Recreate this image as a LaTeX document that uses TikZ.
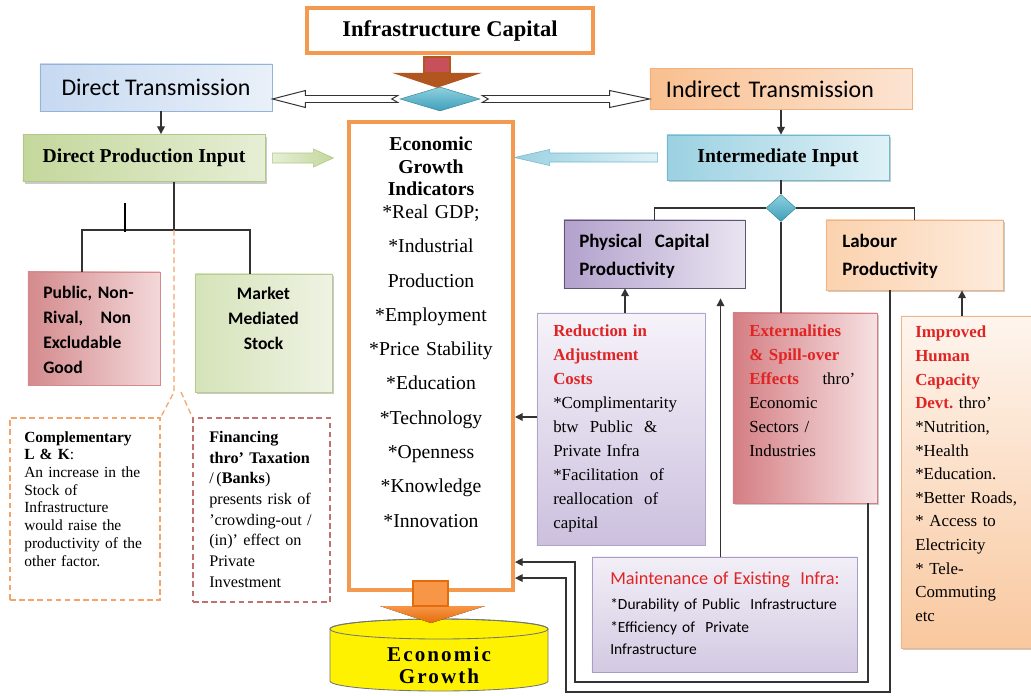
\documentclass[tikz,border=0pt]{standalone}
\usepackage{fontspec}
\setmainfont{Liberation Serif}
\newfontfamily\calibri{Carlito}
\usetikzlibrary{shapes.geometric,arrows.meta,calc,positioning,shadows}

\definecolor{infra-orange}{HTML}{F39A50}
\definecolor{direct-blue-1}{HTML}{C6D9F1}
\definecolor{direct-blue-2}{HTML}{E9F0F9}
\definecolor{direct-blue-3}{HTML}{95B3D7}
\definecolor{prod-green-1}{HTML}{C4D79B}
\definecolor{prod-green-2}{HTML}{E6EED5}
\definecolor{prod-green-3}{HTML}{B0C88A}
\definecolor{indirect-peach-1}{HTML}{F9BF8F}
\definecolor{indirect-peach-2}{HTML}{FCE4D2}
\definecolor{indirect-peach-3}{HTML}{F2B07E}
\definecolor{inter-cyan-1}{HTML}{9BD1E1}
\definecolor{inter-cyan-2}{HTML}{DFF1F7}
\definecolor{inter-cyan-3}{HTML}{72B8CE}
\definecolor{hub-teal}{HTML}{3F9FB9}
\definecolor{hub-teal-light}{HTML}{8ED0E0}
\definecolor{cap-purple-1}{HTML}{B2A1CC}
\definecolor{cap-purple-2}{HTML}{E9E4F1}
\definecolor{cap-purple-3}{HTML}{5D5770}
\definecolor{labour-peach-1}{HTML}{FBD2AE}
\definecolor{labour-peach-2}{HTML}{FDEBDD}
\definecolor{labour-peach-3}{HTML}{F0B383}
\definecolor{public-pink-1}{HTML}{D48A8D}
\definecolor{public-pink-2}{HTML}{F3D8D9}
\definecolor{market-green-1}{HTML}{D5E3B9}
\definecolor{market-green-2}{HTML}{EEF3E3}
\definecolor{market-green-3}{HTML}{B7CC90}
\definecolor{adjust-lilac-1}{HTML}{F6F3FA}
\definecolor{adjust-lilac-2}{HTML}{CCC0DE}
\definecolor{adjust-lilac-3}{HTML}{B1A4CB}
\definecolor{spill-red-1}{HTML}{D47E83}
\definecolor{spill-red-2}{HTML}{F6E1E2}
\definecolor{human-peach-1}{HTML}{FEF5EE}
\definecolor{human-peach-2}{HTML}{F9C89F}
\definecolor{human-peach-3}{HTML}{EDB58A}
\definecolor{maint-lilac-1}{HTML}{F2EFF7}
\definecolor{maint-lilac-2}{HTML}{D3C9E2}
\definecolor{maint-lilac-3}{HTML}{A99CC6}
\definecolor{title-red}{HTML}{E02424}
\definecolor{compl-orange}{HTML}{F4A36A}
\definecolor{fin-red}{HTML}{C07070}
\definecolor{push-brown}{HTML}{B0561E}
\definecolor{push-red}{HTML}{C8505A}
\definecolor{growth-orange}{HTML}{E46C0A}
\definecolor{growth-orange-light}{HTML}{F79646}
\definecolor{line-gray}{HTML}{333333}

\begin{document}
\begin{tikzpicture}[x=0.025cm, y=-0.025cm,
box/.style={rectangle, draw, line width=0.6pt},
shadowed/.style={drop shadow={shadow xshift=1.6pt, shadow yshift=-1.6pt, opacity=0.35, fill=black!60}},
body/.style={anchor=north west, align=left},
gem/.style={diamond, top color=hub-teal-light, bottom color=hub-teal, draw=hub-teal!80!black, line width=0.3pt},
hollow/.style={draw=black!80, fill=white, line width=0.7pt, line join=miter}]
\tikzstyle{every node}=[inner sep=0pt]
\tikzstyle{link}=[draw=line-gray, line width=0.9pt]
\tikzstyle{arrow}=[link, -{Triangle[length=5.5pt,width=5.5pt]}]
\tikzstyle{pointer}=[draw=compl-orange, line width=0.9pt, dash pattern=on 4pt off 2.5pt]

\useasboundingbox (0,0) rectangle (1031,696);

% top: capital and the two channels
\node (infra) at (450,30.5) [box, draw=infra-orange, line width=2.8pt, fill=white, minimum width=7.15cm, minimum height=1.125cm, font=\bfseries\fontsize{16}{19}\selectfont] {Infrastructure Capital};
\node (hub) at (440,99) [gem, minimum width=2cm, minimum height=0.6cm] {};
\node (dtrans) at (156,87.5) [box, draw=direct-blue-3, left color=direct-blue-1, right color=direct-blue-2, minimum width=5.8cm, minimum height=1.175cm, font=\calibri\fontsize{17}{20}\selectfont] {Direct Transmission};
\node (itrans) at (781,89) [box, draw=indirect-peach-3, left color=indirect-peach-1, right color=indirect-peach-2, minimum width=6.55cm, minimum height=1.025cm, text width=5.75cm, align=left, font=\calibri\fontsize{17}{20}\selectfont] {Indirect Transmission};
\node (dprod) at (144,158) [box, shadowed, draw=prod-green-3, left color=prod-green-1, right color=prod-green-2, minimum width=6.05cm, minimum height=1.175cm, font=\bfseries\fontsize{14}{17}\selectfont] {Direct Production Input};
\node (ii) at (778,157.5) [box, shadowed, draw=inter-cyan-3, left color=inter-cyan-1, right color=inter-cyan-2, minimum width=5.55cm, minimum height=1.125cm, font=\bfseries\fontsize{14}{17}\selectfont] {Intermediate Input};

% block arrow into the hub
\begin{scope}[shift={(hub.north)}]
\fill[push-brown] (-48,-14) -- (42,-14) -- (-3,1) -- cycle;
\filldraw[fill=push-red, draw=push-brown, line width=1.5pt] (-16,-30) rectangle (10,-14);
\end{scope}

% hollow arrows out of the hub
\draw[hollow] ($(hub.west)+(-2,-3.5)$) -- ($(dtrans.east |- hub.west)+(33,-3.5)$) -- ++(0,-5) -- (dtrans.east |- hub.west) -- ($(dtrans.east |- hub.west)+(33,8.5)$) -- ++(0,-5) -- ($(hub.west)+(-2,3.5)$) -- ($(hub.west)+(-8,0)$) -- cycle;
\draw[hollow] ($(hub.east)+(2,-3.5)$) -- ($(itrans.west |- hub.east)+(-40,-3.5)$) -- ++(0,-5) -- (itrans.west |- hub.east) -- ($(itrans.west |- hub.east)+(-40,8.5)$) -- ++(0,-5) -- ($(hub.east)+(2,3.5)$) -- ($(hub.east)+(8,0)$) -- cycle;

\draw[arrow] ([xshift=0.125cm]dtrans.south) -- ([xshift=0.125cm]dtrans.south |- dprod.north);

% indicators
\node (egi) at (431,356) [box, draw=infra-orange, line width=2.8pt, fill=white, minimum width=4.1cm, minimum height=11.7cm] {};
\node (egi-text) at (431,137) [body, anchor=north, align=center, text width=3.9cm, font=\fontsize{14}{16}\selectfont] {{\bfseries Economic\\Growth\\Indicators}\\{}*Real GDP;\\[8.4pt]{}*Industrial\\[8.4pt]Production\\[8.4pt]{}*Employment\\[8.4pt]{}*Price Stability\\[8.4pt]{}*Education\\[8.4pt]{}*Technology\\[8.4pt]{}*Openness\\[8.4pt]{}*Knowledge\\[8.4pt]{}*Innovation};

\begin{scope}[shift={(dprod.east)}]
\draw[draw=prod-green-3, line width=0.4pt, left color=prod-green-2, right color=prod-green-1] (7,-5) -- (48,-5) -- (48,-9) -- (68,0) -- (48,9) -- (48,5) -- (7,5) -- cycle;
\end{scope}
\begin{scope}[shift={(ii.west)}]
\draw[draw=inter-cyan-3, line width=0.4pt, left color=inter-cyan-1, right color=inter-cyan-2] (-9,-4.5) -- (-117,-4.5) -- (-117,-8) -- (-152,0) -- (-117,8) -- (-117,4.5) -- (-9,4.5) -- cycle;
\end{scope}

% direct side: the two kinds of stock
\node (pub) at (94,328.5) [box, draw=public-pink-1, left color=public-pink-1, right color=public-pink-2, minimum width=3.3cm, minimum height=2.825cm] {};
\node (pub-text) at (43,286) [body, text width=2.7cm, font=\calibri\bfseries\fontsize{12.5}{17.8}\selectfont] {Public, Non-\\Rival,\quad Non\\Excludable\\Good};
\node (mkt) at (263.5,333) [box, shadowed, draw=market-green-3, left color=market-green-1, right color=market-green-2, minimum width=3.425cm, minimum height=2.95cm] {};
\node (mkt-text) at (263.5,287) [body, anchor=north, align=center, text width=3cm, font=\calibri\bfseries\fontsize{12.5}{17.8}\selectfont] {Market\\Mediated\\Stock};

\coordinate (fork) at (174,230);
\coordinate (bend) at (174,392);
\draw[link] (dprod.south -| fork) -- (fork);
\draw[link] ([xshift=-0.3cm]pub.north) |- (fork) -| ([xshift=-0.3375cm]mkt.north);
\draw[line width=1.8pt] ($(fork)+(-49,2)$) -- ++(0,-29);

\node (compl) at (85,509) [box, draw=compl-orange, line width=0.9pt, dash pattern=on 4pt off 2.5pt, minimum width=3.75cm, minimum height=4.55cm] {};
\node (compl-text) at (24,431) [body, text width=3.3cm, font=\fontsize{11}{12.6}\selectfont] {{\bfseries Complementary\\L \& K}:\\An increase in the\\Stock of\\Infrastructure\\would raise the\\productivity of the\\other factor.};
\node (fin) at (261.5,510) [box, draw=fin-red, line width=0.9pt, dash pattern=on 4pt off 2.5pt, minimum width=3.425cm, minimum height=4.6cm] {};
\node (fin-text) at (209,431) [body, text width=3cm, font=\fontsize{11.5}{14.7}\selectfont] {{\bfseries Financing\\thro' Taxation}\\/\,({\bfseries Banks})\\presents risk of\\'crowding-out /\\(in)' effect on\\Private\\Investment};
\draw[pointer] (fork) -- (bend) -- (compl.north east);
\draw[pointer] ($(bend)+(7,0)$) -- (fin.north west);

% indirect side
\node (split) at (781,208) [gem, minimum width=0.75cm, minimum height=0.675cm] {};
\node (pcp) at (654.5,254) [box, draw=cap-purple-3, left color=cap-purple-1, right color=cap-purple-2, minimum width=4.525cm, minimum height=1.7cm] {};
\node (pcp-text) at (579,234) [body, text width=4cm, font=\calibri\bfseries\fontsize{13.5}{20}\selectfont] {Physical\ \ Capital\\Productivity};
\node (labour) at (914.5,255) [box, shadowed, draw=labour-peach-3, left color=labour-peach-1, right color=labour-peach-2, minimum width=4.425cm, minimum height=1.75cm] {};
\node (labour-text) at (842,234) [body, text width=3.8cm, font=\calibri\bfseries\fontsize{13.5}{20}\selectfont] {Labour\\Productivity};

\draw[arrow] (itrans.south -| split) -- (ii.north -| split);
\draw[link] (ii.south -| split) -- (split.north);
\draw[link] (split.west) -| (pcp.north);
\draw[link] (split.east) -| (labour.north);

\node (red) at (621,429) [box, draw=adjust-lilac-3, top color=adjust-lilac-1, bottom color=adjust-lilac-2, minimum width=4.2cm, minimum height=5.8cm] {};
\node (red-text) at (553,325) [body, text width=3.6cm, font=\fontsize{12}{17}\selectfont] {{\color{title-red}\bfseries Reduction in\\Adjustment\\Costs}\\{}*Complimentarity\\btw\ \ Public\ \ \&\\Private Infra\\{}*Facilitation\ \ of\\reallocation\ \ of\\capital};
\node (ext) at (805,408) [box, shadowed, draw=spill-red-1, left color=spill-red-1, right color=spill-red-2, minimum width=3.6cm, minimum height=4.75cm] {};
\node (ext-text) at (749,325) [body, text width=2.65cm, font=\fontsize{12}{17}\selectfont] {{\color{title-red}\bfseries Externalities\\\& Spill-over\\Effects}\hfill thro'\\Economic\\Sectors /\\Industries};
\node (imp) at (966,482) [box, shadowed, draw=human-peach-3, top color=human-peach-1, bottom color=human-peach-2, minimum width=3.25cm, minimum height=8.3cm] {};
\node (imp-text) at (915,326) [body, text width=2.8cm, font=\fontsize{12}{16.8}\selectfont] {{\color{title-red}\bfseries Improved\\Human\\Capacity\\Devt.}\ thro'\\{}*Nutrition,\\{}*Health\\{}*Education.\\{}*Better Roads,\\{}* Access to\\Electricity\\{}* Tele-\\Commuting\\etc};
\node (maint) at (724.5,614.5) [box, draw=maint-lilac-3, top color=maint-lilac-1, bottom color=maint-lilac-2, minimum width=6.625cm, minimum height=2.875cm] {};
\node (maint-text) at (610,572) [body, text width=6.3cm, font=\calibri\fontsize{11}{16}\selectfont] {{\color{title-red}\fontsize{13}{16}\selectfont Maintenance of Existing\ \ Infra:}\\[1.5pt]{}*Durability of Public\ \ Infrastructure\\{}*Efficiency of\ \ Private\\Infrastructure};

\draw[link] (split.south) -- (split.south |- ext.north);
\draw[arrow] ([xshift=0.1cm]red.north) -- ([xshift=0.1cm]red.north |- pcp.south);
\draw[arrow, shorten >=0.25cm] ([xshift=-0.1cm]maint.north) -- ([xshift=-0.1cm]maint.north |- pcp.south);
\draw[arrow] ([xshift=-0.1cm]imp.north) -- ([xshift=-0.1cm]imp.north |- labour.south);
\draw[arrow] ([yshift=0.3cm]red.west) -- ([yshift=0.3cm]red.west -| egi.east);
\draw[arrow] ([xshift=1.575cm]ext.south) |- (575,682) |- ([yshift=-5.15cm]egi.east);
\draw[arrow] ([xshift=-0.6125cm]labour.south) |- (566,692) |- ([yshift=-5.55cm]egi.east);

% outcome
\filldraw[fill=yellow, draw=black!55, line width=0.6pt] (330,629) -- (330,681) arc[start angle=180, end angle=0, x radius=109, y radius=10] -- (548,629) arc[start angle=0, end angle=-180, x radius=109, y radius=10] -- cycle;
\draw[draw=black!55, line width=0.6pt] (439,629) ellipse [x radius=109, y radius=10];
\node (growth) at (439,665.5) [align=center, font=\bfseries\fontsize{15}{15.5}\selectfont\addfontfeature{LetterSpace=10}] {Economic\\Growth};
\begin{scope}[shift={(egi.south)}]
\fill[top color=growth-orange-light, bottom color=growth-orange] (-51,14) -- (54,14) -- (0,31) -- cycle;
\filldraw[fill=growth-orange-light, draw=growth-orange, line width=1.2pt] (-18,-11) rectangle (17,14);
\end{scope}
\end{tikzpicture}
\end{document}
